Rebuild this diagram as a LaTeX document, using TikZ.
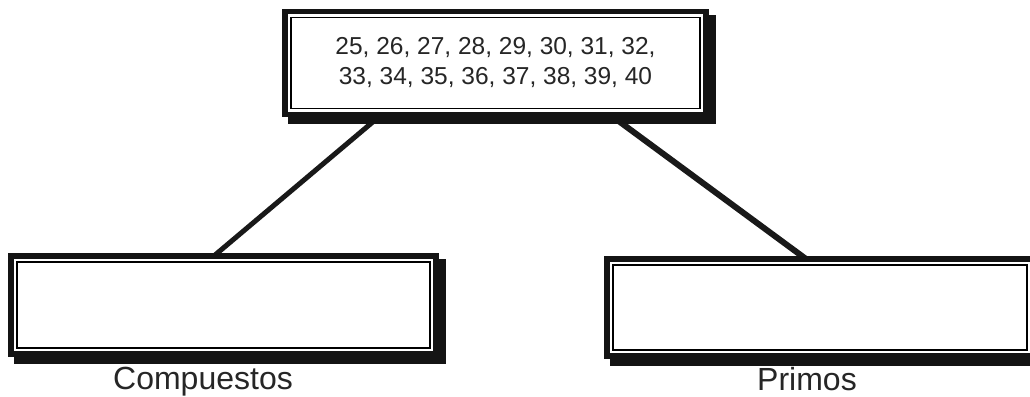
\documentclass[tikz,border=0pt]{standalone}
\usepackage{fontspec}
\setmainfont{Liberation Sans}
\usetikzlibrary{backgrounds}
\tikzset{
  box/.style={draw, line width=1.3pt, fill=white, inner sep=0pt, rectangle},
  link/.style={line width=5pt, black!90},
  lbl/.style={font=\fontsize{32}{36}\selectfont, inner sep=0pt, text=black!85, anchor=base},
}
\newcommand{\fancyframe}[1]{%
  \fill[black!92] ([shift={(-8,-8)}]#1.north west) rectangle ([shift={(8,8)}]#1.south east);
  \fill[black!92] ([shift={(-2,-2)}]#1.north west) rectangle ([shift={(15,15)}]#1.south east);
  \fill[white] ([shift={(-2.5,-2.5)}]#1.north west) rectangle ([shift={(2.5,2.5)}]#1.south east);
}
\begin{document}
\begin{tikzpicture}[x=1pt,y=-1pt]
\useasboundingbox (0,0) rectangle (1030,396);
\clip (0,0) rectangle (1030,396);
\node[box, minimum width=409pt, minimum height=91pt, align=center,
      font=\fontsize{24.5}{30}\selectfont, text=black!85] (top) at (495.5,63)
  {25, 26, 27, 28, 29, 30, 31, 32,\\33, 34, 35, 36, 37, 38, 39, 40};
\node[box, minimum width=413pt, minimum height=86pt] (comp) at (223.5,305) {};
\node[box, minimum width=414pt, minimum height=85pt] (prim) at (820,307.5) {};
\node[lbl] (lcomp) at (203,389.5) {Compuestos};
\node[lbl] (lprim) at (807,390) {Primos};
\begin{scope}[on background layer]
  \fill[white] (0,0) rectangle (1030,396);
  \draw[link] ([xshift=-107.5pt]top.south) -- ([xshift=-16pt]comp.north);
  \draw[link, line width=6pt] ([xshift=107pt]top.south) -- ([xshift=-6.7pt]prim.north);
  \fancyframe{top}
  \fancyframe{comp}
  \fancyframe{prim}
\end{scope}
\end{tikzpicture}
\end{document}
